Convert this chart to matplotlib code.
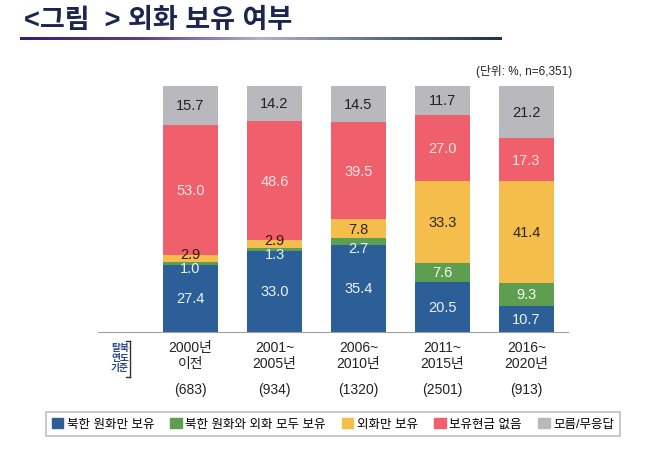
import matplotlib
matplotlib.use("Agg")
import numpy as np
import matplotlib.pyplot as plt
import matplotlib.patches as mpatches
from matplotlib.colors import LinearSegmentedColormap

plt.rcParams['font.family'] = ['Liberation Sans', 'Noto Sans CJK KR', 'DejaVu Sans']

# data
periods = ["2000년\n이전", "2001~\n2005년", "2006~\n2010년", "2011~\n2015년", "2016~\n2020년"]
counts = ["(683)", "(934)", "(1320)", "(2501)", "(913)"]
series_names = ["북한 원화만 보유", "북한 원화와 외화 모두 보유", "외화만 보유", "보유현금 없음", "모름/무응답"]
nk_only = [27.4, 33.0, 35.4, 20.5, 10.7]
nk_and_foreign = [1.0, 1.3, 2.7, 7.6, 9.3]
foreign_only = [2.9, 2.9, 7.8, 33.3, 41.4]
no_cash = [53.0, 48.6, 39.5, 27.0, 17.3]
unknown = [15.7, 14.2, 14.5, 11.7, 21.2]

colors = ["#2c5f97", "#5d9e50", "#f4bd4c", "#ef5f6c", "#b9b9bd"]
text_colors = ["#eaf2ff", "#f4fff0", "#2a2a2a", "#fde4e4", "#222222"]

W, H = 658, 456
fig = plt.figure(figsize=(W / 100, H / 100), dpi=100)

# axes placed in pixel terms
x0, x1, ytop, ybot = 98, 568, 87, 333
ax = fig.add_axes([x0 / W, (H - ybot) / H, (x1 - x0) / W, (ybot - ytop) / H])
ax.set_xlim(-(190.5 - x0) / 84, 4 + (x1 - 526.5) / 84)
ax.set_ylim(0, 100)
for s in ["top", "right", "left"]:
    ax.spines[s].set_visible(False)
ax.spines["bottom"].set_color("#a0a0a0")
ax.set_xticks([])
ax.set_yticks([])

xs = np.arange(len(periods))
width = 0.655
all_series = [nk_only, nk_and_foreign, foreign_only, no_cash, unknown]
bottom = np.zeros(len(periods))
for i, vals in enumerate(all_series):
    ax.bar(xs, vals, width, bottom=bottom, color=colors[i], label=series_names[i])
    for j, v in enumerate(vals):
        y = bottom[j] + v / 2
        c = text_colors[i]
        if v < 3.5:
            if i == 1:
                y = bottom[j] - 1.4
                c = "#eaf2ff"
            elif i == 2:
                y = bottom[j] + v / 2 + 1.8
                c = "#3a1515"
        ax.text(xs[j], y, f"{v:.1f}", ha="center", va="center", fontsize=10.5, color=c)
    bottom += np.array(vals)

# category labels under the bars
for j in range(len(periods)):
    fig.text((190.5 + 84 * j) / W, 1 - 356 / H, periods[j], ha="center", va="center",
             fontsize=10, color="#222222", linespacing=1.1)
    fig.text((190.5 + 84 * j) / W, 1 - 390 / H, counts[j], ha="center", va="center",
             fontsize=10, color="#222222")

fig.text(120 / W, 1 - 358 / H, "탈북\n연도\n기준", ha="center", va="center",
         fontsize=7, color="#2a4a8c", fontweight="bold", linespacing=1.05)
fig.add_artist(plt.Line2D([130 / W, 130 / W], [1 - 342 / H, 1 - 378 / H], color="#333333", lw=1))
fig.add_artist(plt.Line2D([126 / W, 130 / W], [1 - 342 / H, 1 - 342 / H], color="#333333", lw=1))
fig.add_artist(plt.Line2D([126 / W, 130 / W], [1 - 378 / H, 1 - 378 / H], color="#333333", lw=1))

# title and underline
fig.text(24 / W, 1 - 21 / H, "<그림  > 외화 보유 여부", ha="left", va="center",
         fontsize=19.5, color="#1c2550", fontweight="bold")
cmap = LinearSegmentedColormap.from_list("ul", ["#3b1d6c", "#5a3f86", "#b9acd0", "#5a6f8a", "#1d3350"])
lax = fig.add_axes([20 / W, 1 - 41 / H, 482 / W, 3 / H])
lax.imshow(np.linspace(0, 1, 300).reshape(1, -1), aspect="auto", cmap=cmap)
lax.axis("off")

fig.text(572 / W, 1 - 72 / H, "(단위: %, n=6,351)", ha="right", va="center",
         fontsize=8.5, color="#222222")

handles = [mpatches.Patch(color=colors[i], label=series_names[i]) for i in range(5)]
leg = fig.legend(handles=handles, loc="center", bbox_to_anchor=(333 / W, 1 - 425 / H),
                 ncol=5, fontsize=9, frameon=True, fancybox=False, edgecolor="#b0b0b0",
                 handlelength=0.9, handleheight=0.9, handletextpad=0.3, columnspacing=1.3,
                 borderpad=0.45, borderaxespad=0)
leg.get_frame().set_linewidth(1.2)
# stretch the frame out to the reference width
fig.canvas.draw()
bb = leg.get_window_extent()
leg.get_frame().set_bounds(30, bb.y0, 606, bb.height)

fig.savefig("out.png", dpi=100)
